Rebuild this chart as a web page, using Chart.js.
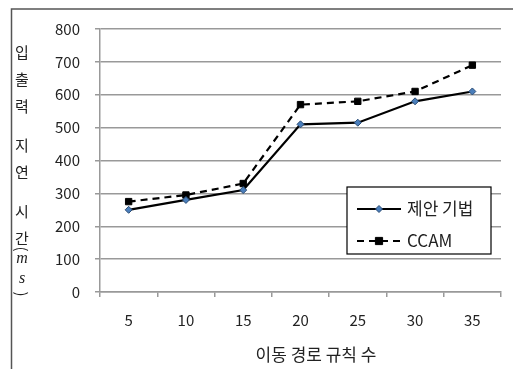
<!DOCTYPE html>
<html>
<head>
<meta charset="utf-8">
<script src="https://cdn.jsdelivr.net/npm/chart.js@4/dist/chart.umd.min.js"></script>
<style>
  body { margin: 0; background: #fff; }
  #wrap { position: relative; width: 513px; height: 369px; }
</style>
</head>
<body>
<div id="wrap"><canvas id="chart" width="513" height="369"></canvas></div>
<script>
var categories = ['5', '10', '15', '20', '25', '30', '35'];
var proposed = [250, 280, 310, 510, 515, 580, 610];
var ccam = [275, 295, 330, 570, 580, 610, 690];
var seriesNames = ['제안 기법', 'CCAM'];
var xTitle = '이동 경로 규칙 수';
var yTitle = ['입', '출', '력', ' ', '지', '연', ' ', '시', '간', '(', 'm', 's', ')'];

var KR = '"Noto Sans CJK KR", "Noto Sans", sans-serif';

// border + vertical y title + x title + boxed legend
const extras = {
    id: 'extras',
    afterDraw(chart) {
        const c = chart.ctx;
        const a = chart.chartArea;
        c.save();

        // outer frame (top + left only)
        c.strokeStyle = '#555';
        c.lineWidth = 1.5;
        c.beginPath();
        c.moveTo(11.5, 369);
        c.lineTo(11.5, 9);
        c.lineTo(513, 9);
        c.stroke();

        // y title, stacked vertically
        c.fillStyle = '#222';
        c.textAlign = 'center';
        c.textBaseline = 'middle';
        let y = 52;
        for (let i = 0; i < yTitle.length; i++) {
            const ch = yTitle[i];
            if (ch === ' ') { y += 12; continue; }
            if (ch === '(' || ch === ')') {
                c.save();
                c.translate(22, y);
                c.rotate(Math.PI / 2);
                c.font = '15px ' + KR;
                c.fillText(ch, 0, 0);
                c.restore();
            } else if (ch === 'm' || ch === 's') {
                c.font = 'italic 16px "Liberation Serif", serif';
                c.fillText(ch, 22, y);
            } else {
                c.font = '15px ' + KR;
                c.fillText(ch, 22, y);
            }
            const next = yTitle[i + 1];
            if (next === '(') y += 11;
            else if (ch === '(') y += 10;
            else if (ch === 'm') y += 20;
            else if (ch === 's') y += 15;
            else y += 27;
        }

        // x title
        c.font = '17px ' + KR;
        c.fillText(xTitle, 316, 355);

        // legend box
        const bx = a.right - 154, by = a.bottom - 105, bw = 144, bh = 67;
        c.fillStyle = '#fff';
        c.fillRect(bx, by, bw, bh);
        c.strokeStyle = '#000';
        c.lineWidth = 1.2;
        c.strokeRect(bx, by, bw, bh);
        chart.data.datasets.forEach((ds, i) => {
            const ly = by + 22 + i * 32;
            c.strokeStyle = ds.borderColor;
            c.lineWidth = ds.borderWidth;
            c.setLineDash(ds.borderDash || []);
            c.beginPath();
            c.moveTo(bx + 10, ly);
            c.lineTo(bx + 54, ly);
            c.stroke();
            c.setLineDash([]);
            const mx = bx + 32;
            const r = ds.pointRadius;
            c.fillStyle = ds.pointBackgroundColor;
            c.strokeStyle = ds.pointBorderColor;
            c.lineWidth = ds.pointBorderWidth;
            c.beginPath();
            if (ds.pointStyle === 'rectRot') {
                c.moveTo(mx, ly - r); c.lineTo(mx + r, ly); c.lineTo(mx, ly + r); c.lineTo(mx - r, ly);
                c.closePath();
            } else {
                c.rect(mx - r * 0.8, ly - r * 0.8, r * 1.6, r * 1.6);
            }
            c.fill();
            c.stroke();
            c.fillStyle = '#222';
            c.textAlign = 'left';
            c.font = '17px ' + KR;
            c.fillText(ds.label, bx + 60, ly);
        });
        c.restore();
    }
};

const ctx = document.getElementById('chart').getContext('2d');
const myChart = new Chart(ctx, {
    type: 'line',
    data: {
        labels: categories,
        datasets: [{
            label: seriesNames[0],
            data: proposed,
            borderColor: '#000',
            borderWidth: 2.2,
            pointStyle: 'rectRot',
            pointRadius: 3.5,
            pointBackgroundColor: '#4a7ebb',
            pointBorderColor: '#2c4d75',
            pointBorderWidth: 1,
            tension: 0,
        }, {
            label: seriesNames[1],
            data: ccam,
            borderColor: '#000',
            borderWidth: 2.2,
            borderDash: [7, 5],
            pointStyle: 'rect',
            pointRadius: 4.5,
            pointBackgroundColor: '#000',
            pointBorderColor: '#000',
            pointBorderWidth: 1,
            tension: 0,
        }],
    },
    options: {
        responsive: false,
        animation: false,
        devicePixelRatio: 1,
        layout: { padding: { left: 0, right: 12, top: 29, bottom: 0 } },
        plugins: {
            legend: { display: false },
            tooltip: { enabled: false },
        },
        scales: {
            x: {
                offset: true,
                afterFit: s => { s.height = 77; },
                grid: {
                    offset: true,
                    drawOnChartArea: false,
                    tickLength: 5,
                    color: '#999',
                    lineWidth: 1.5,
                },
                border: { color: '#999', width: 1.5 },
                ticks: {
                    color: '#222',
                    padding: 14,
                    font: { family: KR, size: 15 },
                },
            },
            y: {
                min: 0,
                max: 800,
                afterFit: s => { s.width = 100; },
                grid: {
                    tickLength: 5,
                    color: '#999',
                    lineWidth: 1.5,
                },
                border: { color: '#999', width: 1.5 },
                ticks: {
                    stepSize: 100,
                    color: '#222',
                    padding: 15,
                    font: { family: KR, size: 15 },
                },
            },
        },
    },
    plugins: [extras],
});
</script>
</body>
</html>
